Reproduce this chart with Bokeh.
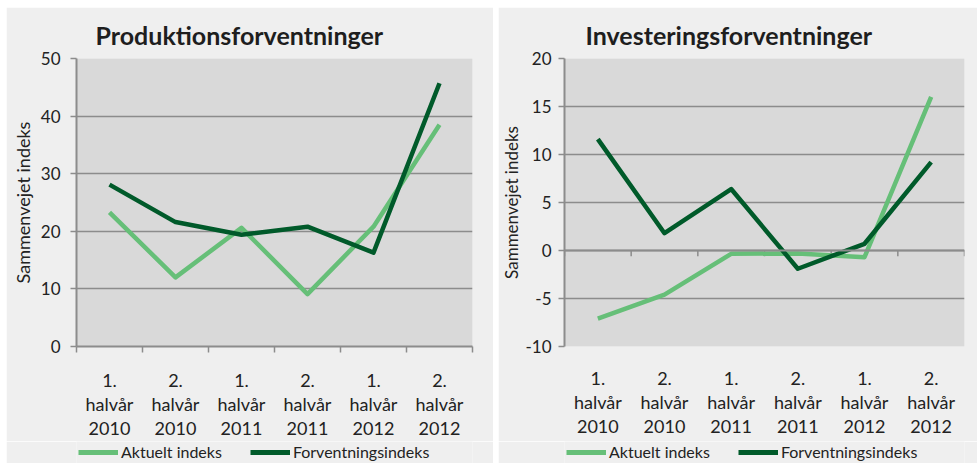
from bokeh.plotting import figure
from bokeh.layouts import row, column
from bokeh.models import FixedTicker, Legend, LegendItem, Span, Title, Spacer, Range1d
from bokeh.embed import file_html
from bokeh.resources import INLINE

periods = ["1.\nhalvår\n2010", "2.\nhalvår\n2010", "1.\nhalvår\n2011",
           "2.\nhalvår\n2011", "1.\nhalvår\n2012", "2.\nhalvår\n2012"]
prod_aktuelt = [23.3, 12.0, 20.6, 9.1, 20.8, 38.5]
prod_forvent = [28.1, 21.6, 19.4, 20.8, 16.3, 45.7]
inv_aktuelt = [-7.1, -4.6, -0.35, -0.3, -0.7, 16.0]
inv_forvent = [11.6, 1.8, 6.4, -1.9, 0.7, 9.2]
prod_ticks = [0, 10, 20, 30, 40, 50]
inv_ticks = [-10, -5, 0, 5, 10, 15, 20]
series_names = ["Aktuelt indeks", "Forventningsindeks"]

LIGHT = "#66BF78"
DARK = "#005A2A"
FONT = "Lato"
GRID = "#8C8C8C"
TXT = "#222222"
BG = "#EFEFEF"
LEG_H = 22
TOTAL_H = 456


def panel(title, aktuelt, forvent, yticks, width, bl, br, bb, title_off,
          label_standoff, tick_standoff, ylab_size, zero_axis):
    n = len(periods)
    xpos = [i + 0.5 for i in range(n)]
    p = figure(width=width, height=TOTAL_H - LEG_H, output_backend="svg",
               toolbar_location=None,
               x_range=Range1d(0, n), y_range=Range1d(min(yticks), max(yticks)),
               min_border_left=bl, min_border_right=br, min_border_top=51,
               min_border_bottom=bb)
    p.border_fill_color = BG
    p.background_fill_color = "#D9D9D9"
    p.outline_line_color = None
    p.title = Title(text=title, align="left", offset=title_off, standoff=17,
                    text_font=FONT, text_font_size="25px", text_font_style="bold",
                    text_color="#1E1E1E")
    p.xgrid.visible = False
    p.ygrid.grid_line_color = GRID
    p.ygrid.grid_line_width = 1.6
    p.ygrid.ticker = FixedTicker(ticks=yticks)

    ya = p.yaxis[0]
    ya.ticker = FixedTicker(ticks=yticks)
    ya.major_label_overrides = {t: str(t) for t in yticks}
    ya.axis_line_color = GRID
    ya.axis_line_width = 2
    ya.major_tick_line_color = GRID
    ya.major_tick_line_width = 1.5
    ya.major_tick_out = 6
    ya.major_tick_in = 0
    ya.minor_tick_line_color = None
    ya.major_label_text_font = FONT
    ya.major_label_text_font_size = "17px"
    ya.major_label_text_color = TXT
    ya.major_label_standoff = tick_standoff
    ya.axis_label = "Sammenvejet indeks"
    ya.axis_label_text_font = FONT
    ya.axis_label_text_font_size = ylab_size
    ya.axis_label_text_font_style = "normal"
    ya.axis_label_text_color = TXT
    ya.axis_label_standoff = label_standoff

    xa = p.xaxis[0]
    xa.ticker = FixedTicker(ticks=xpos, minor_ticks=list(range(n + 1)))
    xa.major_label_overrides = {x: lab for x, lab in zip(xpos, periods)}
    xa.major_tick_line_color = None
    xa.major_tick_out = 0
    xa.major_tick_in = 0
    xa.major_label_text_font = FONT
    xa.major_label_text_font_size = "18px"
    xa.major_label_text_color = TXT
    xa.major_label_text_line_height = 1.1
    xa.major_label_standoff = 16
    if zero_axis:
        xa.axis_line_color = None
        xa.minor_tick_line_color = None
        p.add_layout(Span(location=0, dimension="width", line_color=GRID, line_width=2))
        tk = list(range(n + 1))
        p.segment(x0=tk, x1=tk, y0=[0] * len(tk), y1=[-0.6] * len(tk),
                  line_color=GRID, line_width=1.5)
    else:
        xa.axis_line_color = GRID
        xa.axis_line_width = 2
        xa.minor_tick_line_color = GRID
        xa.minor_tick_line_width = 1.5
        xa.minor_tick_out = 6
        xa.minor_tick_in = 0

    p.line(xpos, aktuelt, line_color=LIGHT, line_width=4.5, line_join="round")
    p.line(xpos, forvent, line_color=DARK, line_width=4.5, line_join="round")

    # legend strip below the chart (proxy renderers are hidden, only the key shows)
    lg = figure(width=width, height=LEG_H, output_backend="svg", toolbar_location=None,
                x_range=Range1d(0, 1), y_range=Range1d(0, 1), min_border=0,
                x_axis_location=None, y_axis_location=None, title=None)
    lg.grid.visible = False
    lg.outline_line_color = None
    lg.border_fill_color = BG
    lg.background_fill_color = BG
    q1 = lg.line(xpos, aktuelt, line_color=LIGHT, line_width=5, visible=False)
    q2 = lg.line(xpos, forvent, line_color=DARK, line_width=5, visible=False)
    leg = Legend(items=[LegendItem(label=series_names[0], renderers=[q1]),
                        LegendItem(label=series_names[1], renderers=[q2])],
                 orientation="horizontal", location=(2, 2), glyph_width=40,
                 glyph_height=14, label_standoff=3, spacing=28, padding=0, margin=0,
                 border_line_color=None, background_fill_alpha=0,
                 inactive_fill_alpha=0, click_policy="none",
                 label_text_font=FONT, label_text_font_size="16px",
                 label_text_color=TXT, label_height=18)
    lg.add_layout(leg)
    return column(p, lg, spacing=0)


c1 = panel("Produktionsforventninger", prod_aktuelt, prod_forvent, prod_ticks,
           487, 70, 21, 88, 19, 4, 10, "18px", False)
c2 = panel("Investeringsforventninger", inv_aktuelt, inv_forvent, inv_ticks,
           479, 65, 13, 95, 21, 0, 7, "17px", True)

layout = column(Spacer(width=977, height=7),
                row(Spacer(width=6, height=TOTAL_H), c1, Spacer(width=5, height=TOTAL_H),
                    c2, spacing=0),
                spacing=0)
open("out.html", "w").write(file_html(layout, INLINE))
